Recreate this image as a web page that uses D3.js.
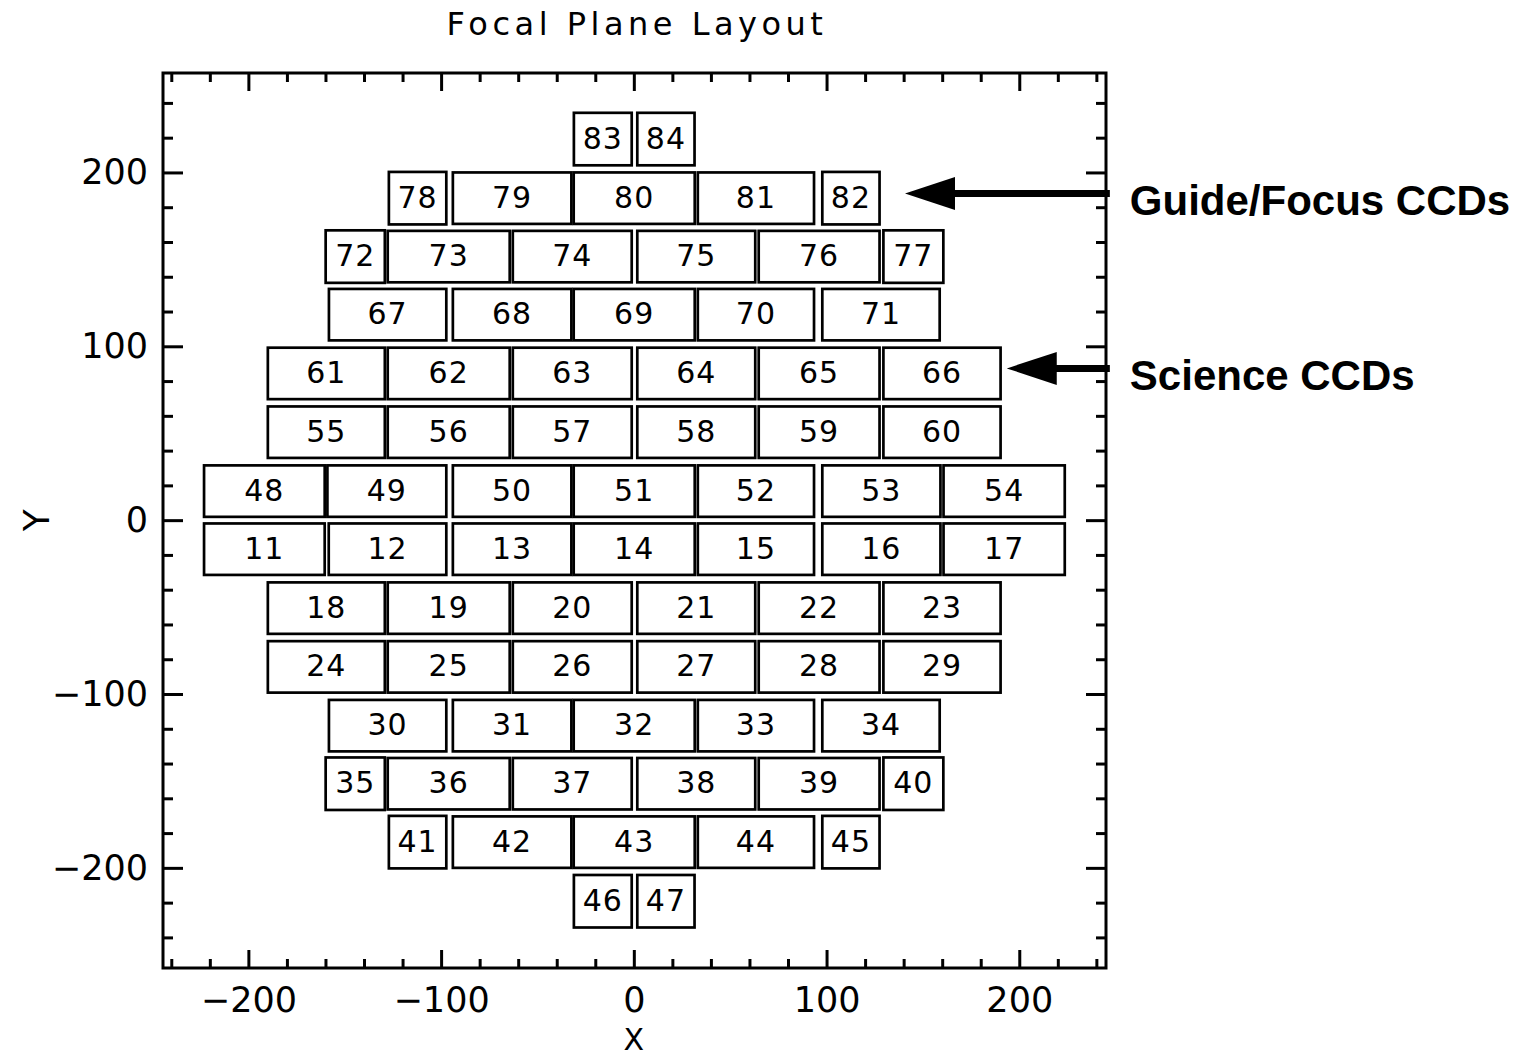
<!DOCTYPE html>
<html>
<head>
<meta charset="utf-8">
<script src="https://cdn.jsdelivr.net/npm/d3@7"></script>
<style>
  body { margin: 0; background: #fff; }
</style>
</head>
<body>
<script>
// CCD rows, top to bottom (y centre in mm)
const rowY = [219.2, 185.2, 151.6, 118.2, 84.4, 50.6, 16.7, -16.7, -50.6, -84.4, -118.2, -151.6, -185.2, -219.2];

const rowIds = [
  [83, 84],
  [78, 79, 80, 81, 82],
  [72, 73, 74, 75, 76, 77],
  [67, 68, 69, 70, 71],
  [61, 62, 63, 64, 65, 66],
  [55, 56, 57, 58, 59, 60],
  [48, 49, 50, 51, 52, 53, 54],
  [11, 12, 13, 14, 15, 16, 17],
  [18, 19, 20, 21, 22, 23],
  [24, 25, 26, 27, 28, 29],
  [30, 31, 32, 33, 34],
  [35, 36, 37, 38, 39, 40],
  [41, 42, 43, 44, 45],
  [46, 47]
];

// left / right edges of each CCD (mm)
const rowX0 = [
  [-31.1, 1.8],
  [-127.1, -93.9, -31.2, 33.2, 97.8],
  [-159.9, -127.7, -62.8, 1.8, 64.8, 129.5],
  [-158.2, -93.9, -31.2, 33.2, 97.8],
  [-189.9, -127.7, -62.8, 1.8, 64.8, 129.5],
  [-189.9, -127.7, -62.8, 1.8, 64.8, 129.5],
  [-223.0, -159.0, -93.9, -31.2, 33.2, 97.8, 160.7],
  [-223.0, -158.3, -93.9, -31.2, 33.2, 97.8, 160.7],
  [-189.9, -127.7, -62.8, 1.8, 64.8, 129.5],
  [-189.9, -127.7, -62.8, 1.8, 64.8, 129.5],
  [-158.2, -93.9, -31.2, 33.2, 97.8],
  [-159.9, -127.7, -62.8, 1.8, 64.8, 129.5],
  [-127.1, -93.9, -31.2, 33.2, 97.8],
  [-31.1, 1.8]
];
const rowX1 = [
  [-1.1, 31.5],
  [-97.3, -32.4, 31.6, 93.5, 127.5],
  [-129.2, -64.4, -1.1, 63.0, 127.5, 160.6],
  [-97.3, -32.4, 31.6, 93.5, 158.7],
  [-129.2, -64.4, -1.1, 63.0, 127.5, 190.3],
  [-129.2, -64.4, -1.1, 63.0, 127.5, 190.3],
  [-160.4, -97.3, -32.4, 31.6, 93.5, 159.1, 223.6],
  [-160.4, -97.3, -32.4, 31.6, 93.5, 159.1, 223.6],
  [-129.2, -64.4, -1.1, 63.0, 127.5, 190.3],
  [-129.2, -64.4, -1.1, 63.0, 127.5, 190.3],
  [-97.3, -32.4, 31.6, 93.5, 158.7],
  [-129.2, -64.4, -1.1, 63.0, 127.5, 160.6],
  [-97.3, -32.4, 31.6, 93.5, 127.5],
  [-1.1, 31.5]
];
const scienceH = 29.6, guideH = 30.2;

const xTicks = [-200, -100, 0, 100, 200];
const yTicks = [-200, -100, 0, 100, 200];
const minorTicks = [-240, -220, -180, -160, -140, -120, -80, -60, -40, -20, 20, 40, 60, 80, 120, 140, 160, 180, 220, 240];

const arrowText = ['Guide/Focus CCDs', 'Science CCDs'];
const arrowTipX = [140.7, 193.5];
const arrowY = [187.9, 87.3];
const arrowTailX = [247, 247];

const ccds = [];
rowIds.forEach((ids, r) => ids.forEach((id, i) => {
  const x0 = rowX0[r][i], x1 = rowX1[r][i];
  const h = (x1 - x0) > 40 ? scienceH : guideH;
  ccds.push({ id, x0, x1, y0: rowY[r] - h / 2, y1: rowY[r] + h / 2, yc: rowY[r] });
}));

const W = 1533, H = 1058;
const svg = d3.select('body').append('svg')
  .attr('width', W)
  .attr('height', H)
  .attr('viewBox', [0, 0, W, H]);

const x = d3.scaleLinear().domain([-244.3, 245.0]).range([163, 1106]);
const y = d3.scaleLinear().domain([-257.6, 257.2]).range([968, 73]);

const txtFont = '"DejaVu Sans", sans-serif';

// title
svg.append('text')
  .attr('x', 637).attr('y', 35)
  .attr('text-anchor', 'middle')
  .attr('font-family', txtFont)
  .attr('font-size', 32)
  .attr('letter-spacing', 4.5)
  .text('Focal Plane Layout');

// ccd boxes
const boxes = svg.append('g');
boxes.selectAll('rect')
  .data(ccds)
  .enter()
  .append('rect')
    .attr('x', d => x(d.x0))
    .attr('y', d => y(d.y1))
    .attr('width', d => x(d.x1) - x(d.x0))
    .attr('height', d => y(d.y0) - y(d.y1))
    .attr('fill', 'none')
    .attr('stroke', '#000')
    .attr('stroke-width', 2.7);

boxes.selectAll('text')
  .data(ccds)
  .enter()
  .append('text')
    .attr('x', d => x((d.x0 + d.x1) / 2))
    .attr('y', d => y(d.yc) + 9.5)
    .attr('text-anchor', 'middle')
    .attr('font-family', txtFont)
    .attr('font-size', 30)
    .attr('letter-spacing', 1)
    .text(d => d.id);

// axes
const fmt = d3.format('d');
function styleAxis(g) {
  g.select('.domain').remove();
  g.selectAll('.tick line').attr('stroke', '#000').attr('stroke-width', 3);
  g.selectAll('.tick text').attr('fill', '#000');
  g.attr('font-family', txtFont).attr('font-size', 35);
}

svg.append('g').attr('transform', 'translate(0,968)')
  .call(d3.axisBottom(x).tickValues(xTicks).tickSize(-18).tickPadding(19).tickFormat(fmt))
  .call(styleAxis);
svg.append('g').attr('transform', 'translate(0,968)')
  .call(d3.axisBottom(x).tickValues(minorTicks).tickSize(-9).tickFormat(''))
  .call(styleAxis);
svg.append('g').attr('transform', 'translate(0,73)')
  .call(d3.axisTop(x).tickValues(xTicks).tickSize(-18).tickFormat(''))
  .call(styleAxis);
svg.append('g').attr('transform', 'translate(0,73)')
  .call(d3.axisTop(x).tickValues(minorTicks).tickSize(-9).tickFormat(''))
  .call(styleAxis);

svg.append('g').attr('transform', 'translate(163,0)')
  .call(d3.axisLeft(y).tickValues(yTicks).tickSize(-20).tickPadding(15).tickFormat(fmt))
  .call(styleAxis);
svg.append('g').attr('transform', 'translate(163,0)')
  .call(d3.axisLeft(y).tickValues(minorTicks).tickSize(-10).tickFormat(''))
  .call(styleAxis);
svg.append('g').attr('transform', 'translate(1106,0)')
  .call(d3.axisRight(y).tickValues(yTicks).tickSize(-20).tickFormat(''))
  .call(styleAxis);
svg.append('g').attr('transform', 'translate(1106,0)')
  .call(d3.axisRight(y).tickValues(minorTicks).tickSize(-10).tickFormat(''))
  .call(styleAxis);

// frame
svg.append('rect')
  .attr('x', x.range()[0]).attr('y', y.range()[1])
  .attr('width', x.range()[1] - x.range()[0])
  .attr('height', y.range()[0] - y.range()[1])
  .attr('fill', 'none')
  .attr('stroke', '#000')
  .attr('stroke-width', 3);

// axis titles
svg.append('text')
  .attr('x', x(0)).attr('y', 1050)
  .attr('text-anchor', 'middle')
  .attr('font-family', txtFont)
  .attr('font-size', 30)
  .text('X');
svg.append('text')
  .attr('transform', `translate(49,${y(0)}) rotate(-90)`)
  .attr('text-anchor', 'middle')
  .attr('font-family', txtFont)
  .attr('font-size', 36)
  .text('Y');

// annotation arrows
const headLen = 50, headHalf = 16.5;
arrowText.forEach((t, i) => {
  const tip = x(arrowTipX[i]), tail = x(arrowTailX[i]), ay = y(arrowY[i]);
  svg.append('line')
    .attr('x1', tip + headLen - 2).attr('x2', tail)
    .attr('y1', ay).attr('y2', ay)
    .attr('stroke', '#000')
    .attr('stroke-width', 7);
  svg.append('path')
    .attr('d', `M${tip},${ay} L${tip + headLen},${ay - headHalf} L${tip + headLen},${ay + headHalf} Z`)
    .attr('fill', '#000');
  svg.append('text')
    .attr('x', tail + 20).attr('y', ay + 22)
    .attr('font-family', '"Liberation Sans", Arial, sans-serif')
    .attr('font-weight', 'bold')
    .attr('font-size', 42)
    .text(t);
});
</script>
</body>
</html>
